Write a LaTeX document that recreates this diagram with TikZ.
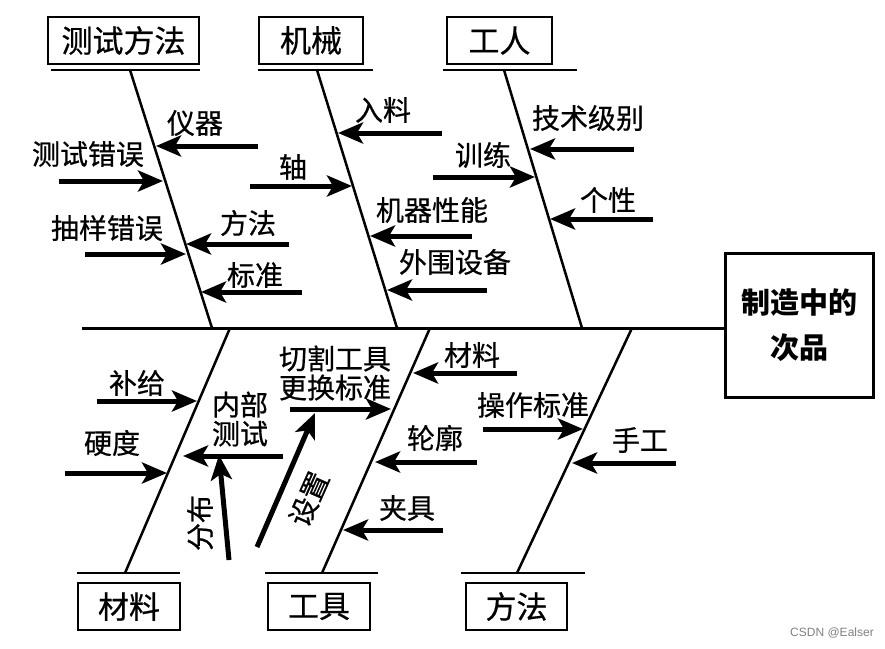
\documentclass[tikz,border=0pt]{standalone}
\usepackage{fontspec}
\setmainfont{Noto Sans CJK SC}
\newfontfamily\cjkfont{Noto Sans CJK SC}[UprightFeatures={FakeBold=0.6}]
\newfontfamily\wmfont{Liberation Sans}
\usetikzlibrary{arrows.meta}
\newcommand\lblfont{\cjkfont\fontsize{28}{29}\selectfont}
\newcommand\boxfont{\cjkfont\fontsize{31}{33}\selectfont}
\newcommand\headfont{\fontsize{29}{45}\selectfont\bfseries}

\begin{document}
\begin{tikzpicture}[x=1pt,y=-1pt,
  box/.style={rectangle,draw,line width=2.5pt,inner sep=0pt,font=\boxfont},
  lbl/.style={inner sep=0pt,font=\lblfont,align=center},
  bone/.style={line width=2.5pt},
  cause/.style={line width=5pt,-{Stealth[length=25pt,width=21pt,inset=6pt]}}]
  \useasboundingbox (0,0) rectangle (885,648);

  \node (m) [box,minimum width=151pt,minimum height=47pt] at (123.5,40.5) {测试方法};
  \node (j) [box,minimum width=104pt,minimum height=47pt] at (311,40.5) {机械};
  \node (w) [box,minimum width=105pt,minimum height=47pt] at (499.5,40.5) {工人};
  \node (c) [box,minimum width=102pt,minimum height=47pt] at (129,606.5) {材料};
  \node (g) [box,minimum width=102pt,minimum height=47pt] at (319,606.5) {工具};
  \node (f) [box,minimum width=101pt,minimum height=47pt] at (516.5,606.5) {方法};
  \node (e) [box,font=\headfont,line width=3pt,minimum width=148pt,minimum height=144pt,align=center] at (799,325) {制造中的\\次品};

  \coordinate (mu0) at (51,70);  \coordinate (mu1) at (200,70);
  \coordinate (ju0) at (258,70); \coordinate (ju1) at (373,70);
  \coordinate (wu0) at (443,70); \coordinate (wu1) at (577,70);
  \coordinate (cu0) at (77,573);  \coordinate (cu1) at (180,573);
  \coordinate (gu0) at (265,573); \coordinate (gu1) at (378,573);
  \coordinate (fu0) at (461,573); \coordinate (fu1) at (585,573);

  \coordinate (m0) at (130,70);  \coordinate (m1) at (212,328);
  \coordinate (j0) at (317,70);  \coordinate (j1) at (397,328);
  \coordinate (w0) at (504,70);  \coordinate (w1) at (582,328);
  \coordinate (c0) at (230,328); \coordinate (c1) at (125,573);
  \coordinate (g0) at (430,328); \coordinate (g1) at (322,573);
  \coordinate (f0) at (632,328); \coordinate (f1) at (517,573);
  \coordinate (s0) at (82,328);

  \draw[line width=3pt] (s0) -- (s0 -| e.west);

  \draw[bone] (mu0) -- (mu1);
  \draw[bone] (ju0) -- (ju1);
  \draw[bone] (wu0) -- (wu1);
  \draw[bone] (cu0) -- (cu1);
  \draw[bone] (gu0) -- (gu1);
  \draw[bone] (fu0) -- (fu1);

  \draw[bone] (m0) -- (m1);
  \draw[bone] (j0) -- (j1);
  \draw[bone] (w0) -- (w1);
  \draw[bone] (c0) -- (c1);
  \draw[bone] (g0) -- (g1);
  \draw[bone] (f0) -- (f1);

  % 测试方法
  \coordinate (a1) at (258,146); \coordinate (t1) at (156,146);
  \coordinate (a2) at (59,181);  \coordinate (t2) at (163,181);
  \coordinate (a3) at (289,244); \coordinate (t3) at (186,244);
  \coordinate (a4) at (85,254);  \coordinate (t4) at (186,254);
  \coordinate (a5) at (302,292); \coordinate (t5) at (201,292);
  \draw[cause] (a1) -- (t1);
  \draw[cause] (a2) -- (t2);
  \draw[cause] (a3) -- (t3);
  \draw[cause] (a4) -- (t4);
  \draw[cause] (a5) -- (t5);
  \node (l1) [lbl] at (195,123) {仪器};
  \node (l2) [lbl] at (88,154) {测试错误};
  \node (l3) [lbl] at (248,223) {方法};
  \node (l4) [lbl] at (107,228) {抽样错误};
  \node (l5) [lbl] at (255,275) {标准};

  % 机械
  \coordinate (a6) at (442,133); \coordinate (t6) at (338,133);
  \coordinate (a7) at (250,186); \coordinate (t7) at (352,186);
  \coordinate (a8) at (472,236); \coordinate (t8) at (370,236);
  \coordinate (a9) at (487,290); \coordinate (t9) at (387,290);
  \draw[cause] (a6) -- (t6);
  \draw[cause] (a7) -- (t7);
  \draw[cause] (a8) -- (t8);
  \draw[cause] (a9) -- (t9);
  \node (l6) [lbl] at (383,110) {入料};
  \node (l7) [lbl] at (293,167) {轴};
  \node (l8) [lbl] at (432,210) {机器性能};
  \node (l9) [lbl] at (455,262) {外围设备};

  % 工人
  \coordinate (a10) at (634,149); \coordinate (t10) at (530,149);
  \coordinate (a11) at (433,177); \coordinate (t11) at (535,177);
  \coordinate (a12) at (653,219); \coordinate (t12) at (550,219);
  \draw[cause] (a10) -- (t10);
  \draw[cause] (a11) -- (t11);
  \draw[cause] (a12) -- (t12);
  \node (l10) [lbl] at (588,118) {技术级别};
  \node (l11) [lbl] at (483,155) {训练};
  \node (l12) [lbl] at (608,200) {个性};

  % 材料
  \coordinate (a13) at (97,401);  \coordinate (t13) at (197,401);
  \coordinate (a14) at (65,473);  \coordinate (t14) at (167,473);
  \coordinate (a15) at (283,456); \coordinate (t15) at (183,456);
  \coordinate (a16) at (229,560); \coordinate (t16) at (219,455);
  \draw[cause] (a13) -- (t13);
  \draw[cause] (a14) -- (t14);
  \draw[cause] (a15) -- (t15);
  \draw[cause] (a16) -- (t16);
  \node (l13) [lbl] at (137,383) {补给};
  \node (l14) [lbl] at (112,443) {硬度};
  \node (l15) [lbl] at (240,419) {内部\\测试};
  \node (l16) [lbl,rotate=90] at (200,523) {分布};

  % 工具
  \coordinate (a17) at (290,409); \coordinate (t17) at (391,409);
  \coordinate (a18) at (257,547); \coordinate (t18) at (315,413);
  \coordinate (a19) at (517,373); \coordinate (t19) at (413,373);
  \coordinate (a20) at (477,462); \coordinate (t20) at (375,462);
  \coordinate (a21) at (443,530); \coordinate (t21) at (343,530);
  \draw[cause] (a17) -- (t17);
  \draw[cause] (a18) -- (t18);
  \draw[cause] (a19) -- (t19);
  \draw[cause] (a20) -- (t20);
  \draw[cause] (a21) -- (t21);
  \node (l17) [lbl] at (335,373) {切割工具\\更换标准};
  \node (l18) [lbl,rotate=66] at (309,499) {设置};
  \node (l19) [lbl] at (472,355) {材料};
  \node (l20) [lbl] at (435,438) {轮廓};
  \node (l21) [lbl] at (407,508) {夹具};

  % 方法
  \coordinate (a22) at (483,429); \coordinate (t22) at (583,429);
  \coordinate (a23) at (676,463); \coordinate (t23) at (572,463);
  \draw[cause] (a22) -- (t22);
  \draw[cause] (a23) -- (t23);
  \node (l22) [lbl] at (533,405) {操作标准};
  \node (l23) [lbl] at (640,440) {手工};

  \node (wm) [font=\wmfont\fontsize{12}{12}\selectfont,text=gray] at (832,633) {CSDN @Ealser};
\end{tikzpicture}
\end{document}
